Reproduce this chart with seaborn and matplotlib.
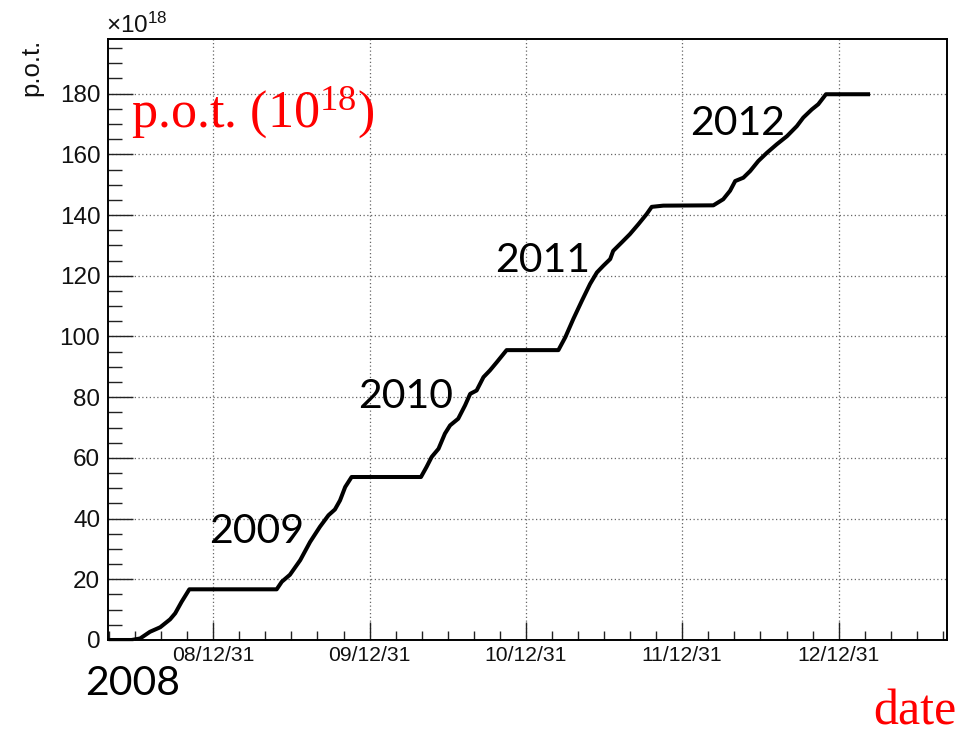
import numpy as np
import pandas as pd
import matplotlib
matplotlib.use("Agg")
import matplotlib.pyplot as plt
import matplotlib.dates as mdates
from matplotlib.ticker import MultipleLocator, FixedLocator, FixedFormatter
import seaborn as sns

# ---------------- data (p.o.t. in units of 1e18) ----------------
dates = [
    "2008-04-29", "2008-06-23", "2008-07-13", "2008-08-05", "2008-08-29",
    "2008-09-21", "2008-10-03", "2008-10-18", "2008-11-05", "2009-05-28",
    "2009-06-09", "2009-06-28", "2009-07-22", "2009-08-14", "2009-09-06",
    "2009-09-26", "2009-10-11", "2009-10-23", "2009-11-04", "2009-11-19",
    "2010-04-30", "2010-05-13", "2010-05-25", "2010-06-10", "2010-06-25",
    "2010-07-07", "2010-07-26", "2010-08-11", "2010-08-23", "2010-09-07",
    "2010-09-23", "2010-10-08", "2010-10-24", "2010-11-16", "2011-03-17",
    "2011-04-02", "2011-04-21", "2011-05-11", "2011-05-30", "2011-06-15",
    "2011-06-30", "2011-07-16", "2011-07-23", "2011-08-12", "2011-08-31",
    "2011-09-20", "2011-10-09", "2011-10-21", "2011-11-17", "2012-03-13",
    "2012-04-05", "2012-04-21", "2012-05-03", "2012-05-22", "2012-06-07",
    "2012-06-26", "2012-07-16", "2012-08-08", "2012-09-01", "2012-09-24",
    "2012-10-09", "2012-10-29", "2012-11-13", "2012-12-01", "2013-03-14",
]
pot = [
    0.0, 0.0, 0.5, 2.7, 4.2,
    6.8, 8.8, 12.6, 16.7, 16.7,
    19.2, 21.5, 26.3, 32.3, 37.3,
    41.1, 43.0, 46.0, 50.4, 53.7,
    53.7, 57.0, 60.3, 63.0, 68.0,
    70.7, 72.9, 77.3, 81.1, 82.2,
    86.6, 88.8, 91.5, 95.5, 95.5,
    99.7, 105.8, 111.8, 117.3, 121.1,
    123.3, 125.5, 128.2, 131.0, 133.7,
    137.0, 140.3, 142.7, 143.1, 143.2,
    145.2, 148.0, 151.2, 152.3, 154.5,
    157.8, 160.5, 163.3, 166.0, 169.3,
    172.1, 174.8, 176.5, 179.8, 179.8,
]
major_tick_dates = ["2008-12-31", "2009-12-31", "2010-12-31", "2011-12-31", "2012-12-31"]
major_tick_labels = ["08/12/31", "09/12/31", "10/12/31", "11/12/31", "12/12/31"]
x_range = ["2008-04-29", "2013-09-09"]
y_range = [0, 198]
year_labels = ["2008", "2009", "2010", "2011", "2012"]

df = pd.DataFrame({"date": pd.to_datetime(dates), "pot": pot})

# ---------------- style ----------------
sns.set_theme(style="white")
plt.rcParams["font.family"] = ["Liberation Sans", "DejaVu Sans"]
plt.rcParams["mathtext.default"] = "regular"

W, H = 972, 736
fig = plt.figure(figsize=(W / 100, H / 100), dpi=100, facecolor="white")
ax = fig.add_axes([108 / W, 1 - 640 / H, (946.7 - 108) / W, (640 - 39) / H])
ax.set_facecolor("white")

sns.lineplot(data=df, x="date", y="pot", color="black", linewidth=2.9,
             estimator=None, sort=False, ax=ax)
for ln in ax.lines:
    ln.set_solid_joinstyle("round")
    ln.set_solid_capstyle("butt")

ax.set_xlim(pd.to_datetime(x_range[0]), pd.to_datetime(x_range[1]))
ax.set_ylim(*y_range)

# x ticks
maj = mdates.date2num(pd.to_datetime(major_tick_dates))
step = np.mean(np.diff(maj)) / 6.0
minor = list(maj[0] - step * np.arange(4, 0, -1))
for a, b in zip(maj[:-1], maj[1:]):
    minor += list(np.linspace(a, b, 7)[1:-1])
minor += list(maj[-1] + step * np.arange(1, 5))
ax.xaxis.set_major_locator(FixedLocator(maj))
ax.xaxis.set_major_formatter(FixedFormatter(major_tick_labels))
ax.xaxis.set_minor_locator(FixedLocator(minor))

# y ticks
ax.yaxis.set_major_locator(MultipleLocator(20))
ax.yaxis.set_minor_locator(MultipleLocator(5))

ax.tick_params(axis="x", which="major", direction="in", length=12.7, width=1.0,
               color="#222222", labelsize=15.2, pad=4.5, bottom=True, top=False)
ax.tick_params(axis="x", which="minor", direction="in", length=6.7, width=1.0,
               color="#222222", bottom=True, top=False)
ax.tick_params(axis="y", which="major", direction="in", length=18, width=1.0,
               color="#222222", labelsize=17.5, pad=5.5, left=True, right=False)
ax.tick_params(axis="y", which="minor", direction="in", length=10, width=1.0,
               color="#222222", left=True, right=False)
for lab in ax.get_xticklabels() + ax.get_yticklabels():
    lab.set_color("#111111")

ax.grid(True, which="major", axis="both", linestyle=(0, (1, 2)),
        color="#666666", linewidth=0.9)
ax.set_axisbelow(True)
for sp in ax.spines.values():
    sp.set_visible(True)
    sp.set_color("black")
    sp.set_linewidth(1.4)
ax.set_xlabel("")
ax.set_ylabel("")

# ---------------- texts ----------------
def fx(px):
    return px / W

def fy(py):
    return 1 - py / H

fig.text(fx(38), fy(38.5), "p.o.t.", rotation=90, ha="right", va="baseline",
         fontsize=18.5, color="#111111", rotation_mode="anchor")
fig.text(fx(106), fy(33.3), "\u00d7$10^{18}$", ha="left", va="baseline",
         fontsize=17.5, color="#111111")

fig.text(fx(131), fy(126.7), "p.o.t. ($10^{18}$)", ha="left", va="baseline",
         fontsize=37.5, color="red", family=["Liberation Serif", "DejaVu Serif"])
fig.text(fx(873), fy(724.5), "date", ha="left", va="baseline",
         fontsize=36, color="red", family=["Liberation Serif", "DejaVu Serif"])

year_pos = [(85, 695), (209, 543.3), (358, 408), (495, 271.7), (690.5, 135)]
for lab, (px, py) in zip(year_labels, year_pos):
    fig.text(fx(px), fy(py), lab, ha="left", va="baseline", fontsize=29.5,
             color="black", family=["Lato", "DejaVu Sans"])

fig.savefig("out.png", dpi=100, facecolor="white")
